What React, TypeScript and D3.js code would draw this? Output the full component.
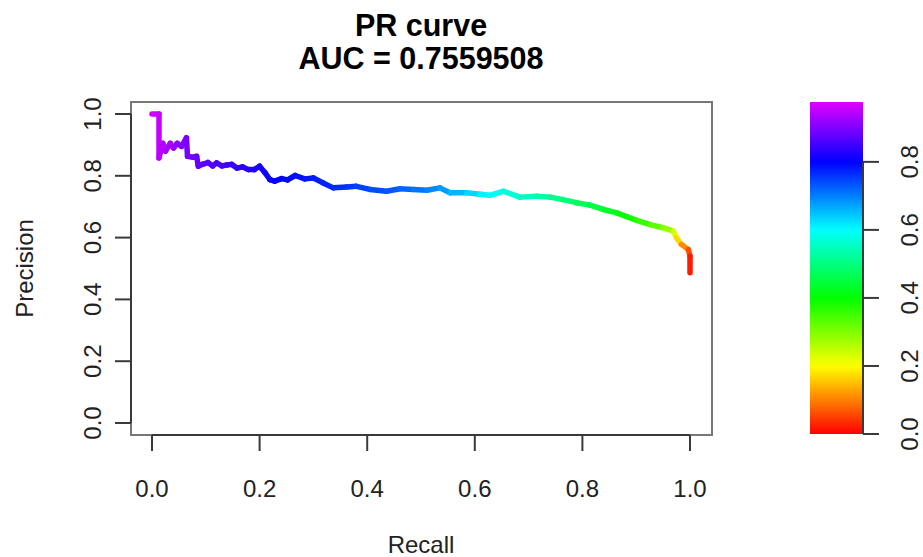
import React from "react";
import * as d3 from "d3";

// ---- data ----
const recall = [
  0.0, 0.013, 0.013, 0.02, 0.025, 0.034, 0.04, 0.047, 0.055, 0.064, 0.066, 0.076, 0.083, 0.086, 0.095,
  0.104, 0.113, 0.12, 0.13, 0.139, 0.148, 0.158, 0.168, 0.179, 0.19, 0.2, 0.21, 0.219, 0.228, 0.241,
  0.252, 0.266, 0.284, 0.3, 0.318, 0.337, 0.362, 0.38, 0.405, 0.436, 0.461, 0.486, 0.511, 0.535, 0.554,
  0.585, 0.61, 0.628, 0.653, 0.684, 0.715, 0.74, 0.764, 0.789, 0.814, 0.839, 0.864, 0.885, 0.901, 0.926,
  0.95, 0.969, 0.975, 0.984, 0.997, 1.0, 1.0,
];
const precision = [
  1.0, 1.0, 0.858, 0.905, 0.88, 0.905, 0.89, 0.905, 0.895, 0.923, 0.863, 0.86, 0.863, 0.831, 0.838,
  0.843, 0.832, 0.842, 0.832, 0.835, 0.837, 0.825, 0.829, 0.82, 0.82, 0.831, 0.81, 0.788, 0.783, 0.791,
  0.787, 0.801, 0.79, 0.793, 0.777, 0.761, 0.764, 0.766, 0.756, 0.75, 0.758, 0.756, 0.753, 0.761, 0.745,
  0.745, 0.74, 0.737, 0.75, 0.731, 0.734, 0.731, 0.723, 0.713, 0.705, 0.691, 0.68, 0.666, 0.656, 0.642,
  0.632, 0.621, 0.599, 0.578, 0.561, 0.54, 0.486,
];
const threshold = [
  0.97, 0.96, 0.95, 0.94, 0.935, 0.93, 0.925, 0.92, 0.91, 0.9, 0.895, 0.89, 0.885, 0.88, 0.875,
  0.87, 0.865, 0.86, 0.855, 0.85, 0.845, 0.84, 0.835, 0.83, 0.825, 0.82, 0.815, 0.81, 0.805, 0.8,
  0.795, 0.79, 0.785, 0.78, 0.775, 0.77, 0.76, 0.755, 0.745, 0.735, 0.725, 0.715, 0.7, 0.685, 0.67,
  0.645, 0.62, 0.6, 0.58, 0.56, 0.54, 0.52, 0.5, 0.48, 0.46, 0.44, 0.42, 0.395, 0.375, 0.345,
  0.31, 0.26, 0.2, 0.14, 0.08, 0.04, 0.0,
];
const axisTicks = [0, 0.2, 0.4, 0.6, 0.8, 1.0];
const colorbarTicks = [0, 0.2, 0.4, 0.6, 0.8];
const colorbarMax = 0.976;
const titleLines = ["PR curve", "AUC = 0.7559508"];
const xLabel = "Recall";
const yLabel = "Precision";

const W = 923;
const H = 557;
const FONT = "'Liberation Sans', Arial, Helvetica, sans-serif";
const AX = "#3a3a3a";

const color = (t: number) => d3.hsl(300 * t, 1, 0.5).formatHex();

export default function App() {
  const x = d3.scaleLinear().domain([0, 1]).range([152, 690]);
  const y = d3.scaleLinear().domain([0, 1]).range([423, 114]);
  const box = { left: 131, right: 712, top: 102, bottom: 435 };
  const cb = { left: 810, right: 863 };
  const cy = d3.scaleLinear().domain([0, colorbarMax]).range([434, 102]);

  const stops = d3.range(0, 61).map((i) => i / 60);

  const segs = recall.slice(1).map((_, i) => ({
    x1: x(recall[i]),
    y1: y(precision[i]),
    x2: x(recall[i + 1]),
    y2: y(precision[i + 1]),
    c: color((threshold[i] + threshold[i + 1]) / 2),
  }));

  return (
    <svg
      width={W}
      height={H}
      style={{ position: "absolute", left: 0, top: 0, background: "#fff" }}
      fontFamily={FONT}
    >
      <defs>
        <linearGradient id="cbgrad" x1="0" y1="1" x2="0" y2="0">
          {stops.map((s) => (
            <stop key={s} offset={s} stopColor={color(s * colorbarMax)} />
          ))}
        </linearGradient>
      </defs>
      <rect x={0} y={0} width={W} height={H} fill="#fff" />

      {/* title */}
      <text x={421} y={36} textAnchor="middle" fontSize={30.5} fontWeight="bold" fill="#000">
        {titleLines[0]}
      </text>
      <text x={421} y={69} textAnchor="middle" fontSize={30.5} fontWeight="bold" fill="#000">
        {titleLines[1]}
      </text>

      {/* curve */}
      <g strokeWidth={5.5} strokeLinecap="round" strokeLinejoin="round" fill="none">
        {segs.map((s, i) => (
          <line key={i} x1={s.x1} y1={s.y1} x2={s.x2} y2={s.y2} stroke={s.c} />
        ))}
      </g>

      {/* box */}
      <rect
        x={box.left}
        y={box.top}
        width={box.right - box.left}
        height={box.bottom - box.top}
        fill="none"
        stroke="#777"
        strokeWidth={2}
      />

      {/* x axis */}
      <line x1={x(0)} x2={x(1)} y1={box.bottom} y2={box.bottom} stroke={AX} strokeWidth={2} />
      {axisTicks.map((t) => (
        <g key={"x" + t}>
          <line x1={x(t)} x2={x(t)} y1={box.bottom} y2={box.bottom + 16} stroke={AX} strokeWidth={2} />
          <text x={x(t)} y={497} textAnchor="middle" fontSize={24} fill="#222">
            {t.toFixed(1)}
          </text>
        </g>
      ))}
      <text x={421} y={553} textAnchor="middle" fontSize={24} fill="#222">
        {xLabel}
      </text>

      {/* y axis */}
      <line x1={box.left} x2={box.left} y1={y(0)} y2={y(1)} stroke={AX} strokeWidth={2} />
      {axisTicks.map((t) => (
        <g key={"y" + t}>
          <line x1={box.left - 16} x2={box.left} y1={y(t)} y2={y(t)} stroke={AX} strokeWidth={2} />
          <text
            transform={`translate(101,${y(t)}) rotate(-90)`}
            textAnchor="middle"
            fontSize={24}
            fill="#222"
          >
            {t.toFixed(1)}
          </text>
        </g>
      ))}
      <text
        transform={`translate(33,${(box.top + box.bottom) / 2}) rotate(-90)`}
        textAnchor="middle"
        fontSize={24}
        fill="#222"
      >
        {yLabel}
      </text>

      {/* colorbar */}
      <rect x={cb.left} y={cy(colorbarMax)} width={cb.right - cb.left} height={cy(0) - cy(colorbarMax)} fill="url(#cbgrad)" />
      <line x1={cb.right} x2={cb.right} y1={cy(0)} y2={cy(0.8)} stroke={AX} strokeWidth={2} />
      {colorbarTicks.map((t) => (
        <g key={"c" + t}>
          <line x1={cb.right} x2={cb.right + 16} y1={cy(t)} y2={cy(t)} stroke={AX} strokeWidth={2} />
          <text
            transform={`translate(918,${cy(t)}) rotate(-90)`}
            textAnchor="middle"
            fontSize={24}
            fill="#222"
          >
            {t.toFixed(1)}
          </text>
        </g>
      ))}
    </svg>
  );
}
